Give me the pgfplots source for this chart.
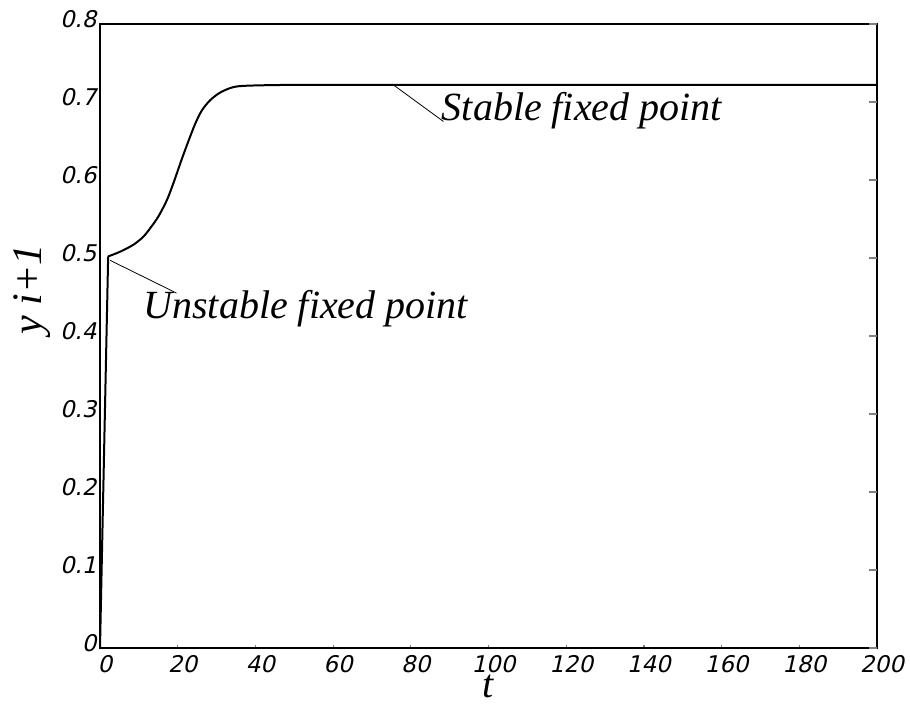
\documentclass[border=0pt]{standalone}
\usepackage{pgfplots}
\pgfplotsset{compat=1.18}
\usepackage{fontspec}
\setmainfont{Liberation Serif}
\newfontfamily\tickfont{DejaVu Sans}[FakeSlant=0.22]
\begin{document}
\begin{tikzpicture}
\begin{axis}[
  name=main,
  scale only axis, width=388.5pt, height=312pt,
  xmin=0, xmax=200, ymin=0, ymax=0.8,
  xtick={0,20,40,60,80,100,120,140,160,180,200},
  ytick={0,0.1,0.2,0.3,0.4,0.5,0.6,0.7,0.8},
  yticklabels={0,0.1,0.2,0.3,0.4,0.5,0.6,0.7,0.8},
  tick align=inside,
  xtick pos=bottom, ytick pos=left,
  major tick length=1.5pt,
  axis line style={line width=0.7pt},
  xtick style={line width=0.6pt},
  ytick style={draw=none},
  /pgf/number format/assume math mode=true,
  tick label style={font=\tickfont\fontsize{11.5}{13}\selectfont},
  yticklabel style={anchor=east, inner sep=0pt, xshift=-1.5pt, yshift=2.3pt},
  xticklabel style={anchor=north, inner sep=0pt, yshift=-3.5pt, xshift=2.5pt},
  xlabel={t}, ylabel={y i+1},
  every axis x label/.style={at={(axis description cs:0.5,0)}, anchor=base, inner sep=0pt, yshift=-25pt, font=\itshape\fontsize{20}{24}\selectfont},
  every axis y label/.style={at={(axis description cs:0,0.575)}, xshift=-34pt, rotate=90, anchor=center, inner sep=0pt, font=\itshape\fontsize{21}{24}\selectfont},
]
% initial jump to the unstable fixed point
\addplot[line width=1pt, black] coordinates {(0,0) (2.1,0.502)};
% transition to the stable fixed point
\addplot[line width=1pt, black, smooth] coordinates {
(2.1,0.502) (5.15,0.508) (8.6,0.517) (11.1,0.527) (12.9,0.538) (15.0,0.553)
(17.2,0.574) (18.9,0.596) (21.0,0.626) (22.7,0.649) (24.5,0.672) (26.2,0.689)
(28.3,0.702) (30.9,0.712) (34.3,0.719) (38.6,0.721) (51.5,0.722) (77.2,0.722)
(120,0.722) (160,0.722) (200,0.722)};
% annotation leaders
\addplot[line width=0.4pt, black] coordinates {(2.6,0.497) (19.7,0.455)};
\addplot[line width=0.4pt, black] coordinates {(75.5,0.722) (88.4,0.675)};
\node[anchor=base west, inner sep=0pt, font=\itshape\fontsize{20}{24}\selectfont] at (axis cs:11.1,0.422) {Unstable fixed point};
\node[anchor=base west, inner sep=0pt, font=\itshape\fontsize{20}{24}\selectfont] at (axis cs:87.9,0.676) {Stable fixed point};
\end{axis}
\begin{axis}[
  scale only axis, width=388.5pt, height=312pt,
  xmin=0, xmax=200, ymin=0, ymax=0.8,
  xtick=\empty,
  ytick={0,0.1,0.2,0.3,0.4,0.5,0.6,0.7,0.8},
  yticklabels={},
  ytick pos=right,
  tick align=inside,
  major tick length=4pt,
  ytick style={line width=0.6pt},
  axis line style={draw=none},
]
\end{axis}
\pgfresetboundingbox
\path ([shift={(-50pt,-28pt)}]main.south west) rectangle ([shift={(16.5pt,12pt)}]main.north east);
\end{tikzpicture}
\end{document}
